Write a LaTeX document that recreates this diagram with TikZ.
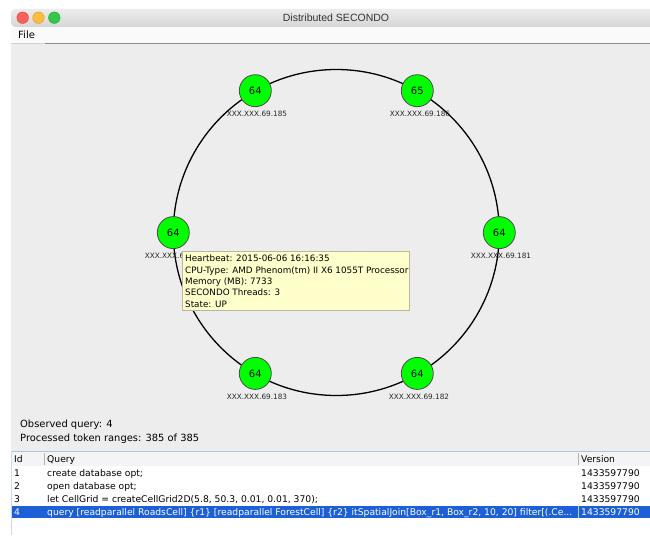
\documentclass[tikz,border=0pt]{standalone}
\usepackage{fontspec}
\setmainfont{DejaVu Sans}
\newfontfamily\titlefont{Liberation Sans}
\definecolor{canvas}{HTML}{EDEDED}
\definecolor{nodegreen}{HTML}{00FF00}
\definecolor{tipfill}{HTML}{FFFFCC}
\definecolor{tipline}{HTML}{B8B8A0}
\definecolor{selblue}{HTML}{1C5FD6}
\definecolor{gridline}{HTML}{A9C4E6}
\definecolor{headbg}{HTML}{F4F4F4}
\definecolor{tbtop}{HTML}{ECECEC}
\definecolor{tbbot}{HTML}{D6D6D6}
\begin{document}
\begin{tikzpicture}[x=1pt,y=-1pt,
  server/.style={circle, draw=black!70, line width=0.8pt, fill=nodegreen,
    minimum size=32pt, inner sep=0pt, font=\fontsize{10}{12}\selectfont},
  hostlabel/.style={font=\fontsize{7.3}{9}\selectfont, text=black!85, inner sep=0pt},
  celltext/.style={anchor=base west, inner sep=0pt, font=\fontsize{9.2}{11}\selectfont},
  infotext/.style={anchor=base west, inner sep=0pt, font=\fontsize{9.9}{12}\selectfont},
  tiptext/.style={anchor=base west, inner sep=0pt, font=\fontsize{8.8}{11}\selectfont},
  light/.style={circle, minimum size=11.5pt, inner sep=0pt, line width=0.5pt},
]
\useasboundingbox (0,0) rectangle (650,535);
\fill[white] (0,0) rectangle (650,535);

% window title bar
\shade[top color=tbtop, bottom color=tbbot, rounded corners=4pt]
  (11,27) -- (11,9) -- (660,9) -- (660,27) -- cycle;
\draw[black!25, line width=0.5pt] (11,27) -- (650,27);
\node[light, fill={rgb,255:red,252;green,96;blue,92}, draw={rgb,255:red,222;green,72;blue,65}] (close) at (22.7,17.7) {};
\node[light, fill={rgb,255:red,253;green,188;blue,64}, draw={rgb,255:red,222;green,159;blue,52}] (minimise) at (38.5,17.7) {};
\node[light, fill={rgb,255:red,52;green,200;blue,74}, draw={rgb,255:red,39;green,170;blue,53}] (zoom) at (54.3,17.7) {};
\node[font=\titlefont\fontsize{10.5}{12}\selectfont, text=black!80] (title) at (336,18) {Distributed SECONDO};

% menu bar
\fill[white!98!black] (11,27.5) rectangle (650,43);
\node[anchor=base west, inner sep=0pt, font=\fontsize{10}{12}\selectfont] (filemenu) at (18,39) {File};
\draw[black!18, line width=0.8pt] (11,43.4) -- (45,43.4);
\draw[black!45, line width=0.8pt] (45,43.4) -- (650,43.4);

% drawing canvas
\fill[canvas] (11,43.8) rectangle (650,451);

% token ring
\coordinate (ringc) at (336.3,232.5);
\draw[black, line width=1.3pt] (ringc) circle (163);

\node[server] (s185) at (255.3,90.7) {64};
\node[server] (s186) at (417.3,90.7) {65};
\node[server] (s184) at (173.3,232.6) {64};
\node[server] (s181) at (499.3,232.6) {64};
\node[server] (s183) at (255.3,373.4) {64};
\node[server] (s182) at (417.3,373.4) {64};

\node[hostlabel] (l185) at (257,114.3) {XXX.XXX.69.185};
\node[hostlabel] (l186) at (420,114.3) {XXX.XXX.69.186};
\node[hostlabel] (l184) at (175,256) {XXX.XXX.69.184};
\node[hostlabel] (l181) at (501,256) {XXX.XXX.69.181};
\node[hostlabel] (l183) at (257,396.5) {XXX.XXX.69.183};
\node[hostlabel] (l182) at (419,396.5) {XXX.XXX.69.182};

% tooltip of the hovered server
\node[draw=tipline, fill=tipfill, line width=0.6pt, anchor=north west,
  minimum width=227pt, minimum height=59pt, inner sep=0pt] (tip) at (182,251) {};
\node[tiptext] (tip1) at (185,261.5) {Heartbeat: 2015-06-06 16:16:35};
\node[tiptext] (tip2) at (185,273) {CPU-Type: AMD Phenom(tm) II X6 1055T Processor};
\node[tiptext] (tip3) at (185,284.3) {Memory (MB): 7733};
\node[tiptext] (tip4) at (185,295.6) {SECONDO Threads: 3};
\node[tiptext] (tip5) at (185,307) {State: UP};

% status lines
\node[infotext] (observed) at (20,427.5) {Observed query: 4};
\node[infotext] (processed) at (20,441.5) {Processed token ranges: 385 of 385};

% query table
\fill[white] (11,451) rectangle (650,535);
\fill[headbg] (11,451.5) rectangle (650,466);
\draw[gridline, line width=0.8pt] (11,451.3) -- (650,451.3);
\draw[gridline!60, line width=0.6pt] (11.3,451) -- (11.3,535);
\draw[black!30, line width=0.5pt] (44,453) -- (44,465);
\draw[black!30, line width=0.5pt] (578,453) -- (578,465);
\fill[selblue] (11.6,505.5) rectangle (650,518);
\draw[white!70!selblue, line width=0.5pt] (578,505.5) -- (578,518);

\node[celltext] (hid) at (14,462.5) {Id};
\node[celltext] (hquery) at (47,462.5) {Query};
\node[celltext] (hversion) at (581,462.5) {Version};

\node[celltext] (id1) at (14,476) {1};
\node[celltext] (q1) at (47,476) {create database opt;};
\node[celltext] (v1) at (581,476) {1433597790};
\node[celltext] (id2) at (14,489) {2};
\node[celltext] (q2) at (47,489) {open database opt;};
\node[celltext] (v2) at (581,489) {1433597790};
\node[celltext] (id3) at (14,502) {3};
\node[celltext] (q3) at (47,502) {let CellGrid = createCellGrid2D(5.8, 50.3, 0.01, 0.01, 370);};
\node[celltext] (v3) at (581,502) {1433597790};
\node[celltext, text=white] (id4) at (14,515) {4};
\node[celltext, text=white] (q4) at (47,515) {query [readparallel RoadsCell] {\{}r1{\}} [readparallel ForestCell] {\{}r2{\}} itSpatialJoin[Box\_r1, Box\_r2, 10, 20] filter[(.Ce...};
\node[celltext, text=white] (v4) at (581,515) {1433597790};
\end{tikzpicture}
\end{document}
